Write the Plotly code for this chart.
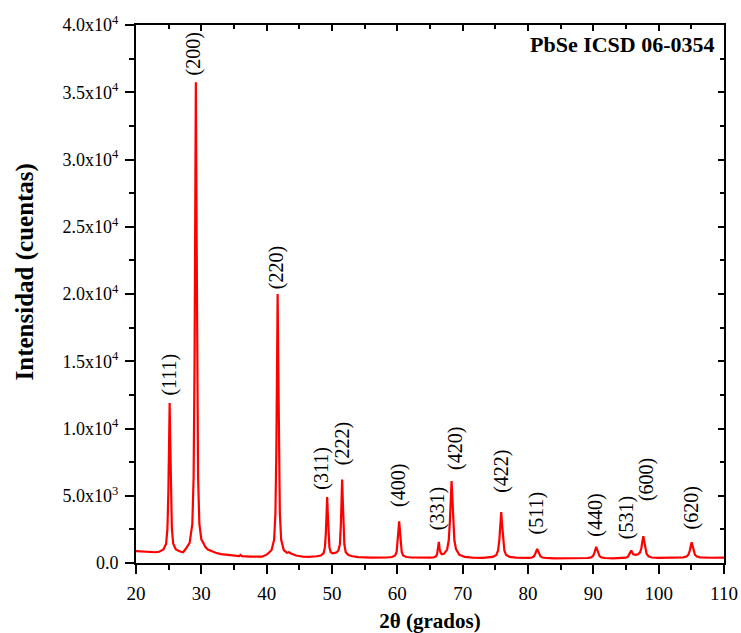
import plotly.graph_objects as go

# Diffractogram of PbSe, 2-theta in degrees vs counts
two_theta = [
    20.0, 20.5, 21.0, 21.5, 22.0, 22.5, 23.0, 23.55, 24.2, 24.61, 24.81,
    24.95, 25.04, 25.15, 25.26, 25.35, 25.49, 25.69, 26.1, 26.75, 27.2,
    27.54, 28.21, 28.62, 28.82, 28.96, 29.05, 29.16, 29.27, 29.36, 29.5,
    29.7, 30.0, 30.3, 30.6, 31.0, 31.5, 32.2, 33.0, 34.0, 35.0, 35.8, 36.0,
    36.2, 37.5, 38.5, 39.3, 40.06, 40.74, 41.14, 41.34, 41.48, 41.57, 41.68,
    41.79, 41.88, 42.02, 42.22, 42.62, 43.1, 43.4, 43.8, 44.5, 45.5, 46.5,
    47.64, 48.31, 48.72, 48.92, 49.06, 49.15, 49.26, 49.37, 49.46, 49.6,
    49.8, 50.1, 50.4, 50.75, 51.0, 51.21, 51.35, 51.44, 51.55, 51.66, 51.75,
    51.89, 52.09, 52.5, 53.15, 54.0, 56.0, 57.5, 58.41, 59.19, 59.66, 59.89,
    60.05, 60.15, 60.28, 60.41, 60.51, 60.67, 60.9, 61.37, 62.15, 63.5, 65.0,
    65.6, 65.92, 66.09, 66.22, 66.35, 66.48, 66.61, 66.8, 67.0, 67.13, 67.62,
    67.87, 68.04, 68.17, 68.3, 68.43, 68.56, 68.73, 68.98, 69.47, 70.3, 71.5,
    73.0, 73.65, 74.6, 75.15, 75.42, 75.62, 75.75, 75.9, 76.05, 76.18, 76.38,
    76.65, 77.2, 78.15, 79.2, 80.1, 80.6, 80.9, 81.1, 81.25, 81.4, 81.55,
    81.7, 81.9, 82.2, 82.7, 84.0, 86.0, 88.0, 89.15, 89.65, 89.95, 90.15,
    90.3, 90.45, 90.6, 90.75, 90.95, 91.25, 91.75, 93.0, 94.5, 95.0, 95.3,
    95.5, 95.65, 95.8, 95.95, 96.1, 96.5, 96.85, 97.15, 97.35, 97.5, 97.65,
    97.8, 97.95, 98.15, 98.45, 98.95, 100.0, 102.0, 103.75, 104.25, 104.55,
    104.75, 104.9, 105.05, 105.2, 105.35, 105.55, 105.85, 106.35, 108.0,
    110.0,
]
counts = [
    880, 865, 850, 845, 825, 810, 800, 835, 1000, 1430, 2540,
    5200, 8530, 11900, 8550, 5220, 2560, 1450, 1000, 850, 800,
    1000, 1500, 2900, 6390, 14780, 25260, 35750, 25260, 14780, 6390,
    2900, 1750, 1500, 1200, 1000, 880, 760, 660, 590, 545, 520, 600,
    515, 475, 460, 470, 640, 950, 1720, 3660, 8330, 14165, 20000,
    14165, 8330, 3660, 1720, 960, 760, 800, 690, 560, 480, 460,
    500, 560, 740, 1180, 2240, 3570, 4900, 3570, 2240, 1180,
    800, 720, 750, 800, 960, 1400, 2770, 4490, 6200, 4490, 2770,
    1390, 820, 590, 500, 440, 400, 395, 410, 445, 555, 825,
    1475, 2290, 3100, 2290, 1475, 825, 555, 445, 410, 390, 395,
    430, 500, 650, 1000, 1575, 1050, 780, 650, 640, 680, 1000,
    1690, 3060, 4770, 6100, 4770, 3060, 1690, 1030, 620, 460, 400,
    385, 400, 450, 590, 930, 1740, 2760, 3780, 2760, 1740, 930,
    590, 450, 400, 370, 375, 410, 495, 670, 880, 1050, 880,
    670, 495, 410, 375, 350, 340, 340, 370, 415, 515, 730,
    985, 1200, 985, 730, 515, 415, 370, 350, 370, 400, 470,
    610, 790, 930, 790, 650, 600, 650, 790, 1100, 1590, 1990,
    1590, 1090, 690, 490, 410, 375, 370, 415, 475, 615,
    905, 1255, 1545, 1255, 905, 615, 475, 415, 390,
    395,
]

# Indexed reflections (Miller indices, position, top counts)
peak_hkl = ["(111)", "(200)", "(220)", "(311)", "(222)", "(400)", "(331)",
            "(420)", "(422)", "(511)", "(440)", "(531)", "(600)", "(620)"]
peak_2theta = [25.15, 29.16, 41.68, 49.26, 51.55, 60.28, 66.35,
               68.3, 75.9, 81.4, 90.45, 95.8, 97.65, 105.05]
peak_counts = [11900, 35750, 20000, 4900, 6200, 3100, 1575,
               6100, 3780, 1050, 1200, 930, 1990, 1545]

# Label nudges in pixels (horizontal, gap above the peak top)
label_dx = [0, -2, -1, -6, 0, 0, -2, 4, 0, -1, -1, -4, 3, 0]
label_gap = [5, 5, 3, 5, 12, 12, 10, 9, 17, 12, 8, 9, 33, 11]

x_ticks = list(range(20, 111, 10))
y_ticks = [0, 5000, 10000, 15000, 20000, 25000, 30000, 35000, 40000]
y_tick_text = ["0.0", "5.0x10<sup>3</sup>", "1.0x10<sup>4</sup>",
               "1.5x10<sup>4</sup>", "2.0x10<sup>4</sup>", "2.5x10<sup>4</sup>",
               "3.0x10<sup>4</sup>", "3.5x10<sup>4</sup>", "4.0x10<sup>4</sup>"]

FONT = "Liberation Serif"
X_RANGE = [20, 110]
Y_RANGE = [0, 40000]

fig = go.Figure()
fig.add_trace(go.Scatter(
    x=two_theta, y=counts, mode="lines",
    line=dict(color="#ff0000", width=2.2),
    showlegend=False, hoverinfo="x+y",
))
# empty trace that carries the mirrored top/right axes
fig.add_trace(go.Scatter(x=[None], y=[None], xaxis="x2", yaxis="y2",
                         showlegend=False, hoverinfo="skip"))

axis_line = dict(showline=True, linecolor="black", linewidth=2,
                 showgrid=False, zeroline=False, automargin=False)

fig.update_layout(
    width=741, height=633,
    margin=dict(l=136, r=17, t=25, b=70, autoexpand=False),
    paper_bgcolor="white", plot_bgcolor="white",
    font=dict(family=FONT, color="black", size=19),
    xaxis=dict(
        **axis_line, range=X_RANGE, tickvals=x_ticks,
        ticks="outside", ticklen=9, tickwidth=2, tickcolor="black",
        minor=dict(ticks="outside", ticklen=5, tickwidth=2,
                   tickcolor="black", dtick=5, tick0=20),
        tickfont=dict(family=FONT, size=19), ticklabelstandoff=3,
        title=dict(text="<b>2\u03b8 (grados)</b>",
                   font=dict(family=FONT, size=21), standoff=11),
    ),
    yaxis=dict(
        **axis_line, range=Y_RANGE, tickvals=y_ticks, ticktext=y_tick_text,
        ticks="outside", ticklen=9, tickwidth=2, tickcolor="black",
        minor=dict(ticks="outside", ticklen=5, tickwidth=2,
                   tickcolor="black", dtick=2500, tick0=0),
        tickfont=dict(family=FONT, size=18), ticklabelstandoff=3,
    ),
    xaxis2=dict(
        **axis_line, range=X_RANGE, overlaying="x", side="top", anchor="y2",
        tickvals=x_ticks, showticklabels=False,
        ticks="inside", ticklen=6, tickwidth=2, tickcolor="black",
        minor=dict(ticks="inside", ticklen=4, tickwidth=2,
                   tickcolor="black", dtick=5, tick0=20),
    ),
    yaxis2=dict(
        **axis_line, range=Y_RANGE, overlaying="y", side="right", anchor="x2",
        tickvals=y_ticks, showticklabels=False,
        ticks="inside", ticklen=6, tickwidth=2, tickcolor="black",
        minor=dict(ticks="inside", ticklen=4, tickwidth=2,
                   tickcolor="black", dtick=2500, tick0=0),
    ),
)

for hkl, pos, top, dx, gap in zip(peak_hkl, peak_2theta, peak_counts,
                                  label_dx, label_gap):
    fig.add_annotation(
        x=pos, y=top, xref="x", yref="y", text=hkl, showarrow=False,
        textangle=-90, xanchor="center", yanchor="bottom",
        xshift=dx, yshift=gap,
        font=dict(family=FONT, size=20, color="black"),
    )

# vertical axis title, set a little above the middle of the frame
fig.add_annotation(
    x=0, y=0.54, xref="paper", yref="paper", xanchor="center",
    yanchor="middle", xshift=-111, showarrow=False, textangle=-90,
    text="<b>Intensidad (cuentas)</b>",
    font=dict(family=FONT, size=25, color="black"),
)

fig.add_annotation(
    x=1, y=1, xref="paper", yref="paper", xanchor="right", yanchor="top",
    xshift=-7, yshift=-5, showarrow=False,
    text="<b>PbSe ICSD 06-0354</b>",
    font=dict(family=FONT, size=22, color="black"),
)

fig.write_html("out.html")
